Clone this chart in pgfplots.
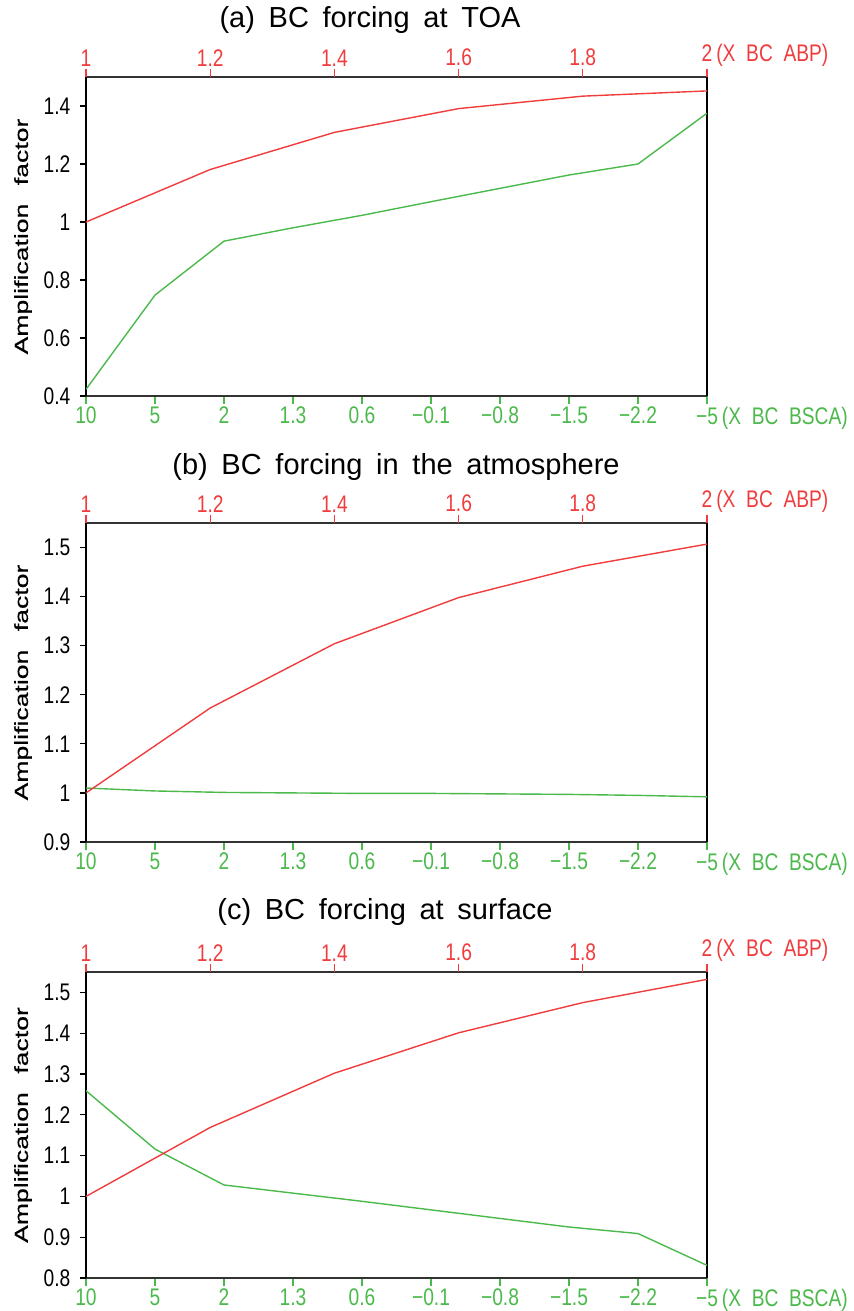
\documentclass[border=0pt]{standalone}
\usepackage{fontspec}
\setmainfont{Liberation Sans}
\newfontfamily\tickfont[FakeStretch=0.8, WordSpace=2]{Liberation Sans}
\newfontfamily\titlefont[WordSpace=1.7]{Liberation Sans}
\newfontfamily\labelfont[FakeStretch=1.4, WordSpace=2.5, FakeBold=0.5]{Liberation Sans}
\usepackage{pgfplots}
\pgfplotsset{compat=1.18}

\definecolor{abpred}{RGB}{240,60,60}
\definecolor{bscagreen}{RGB}{75,185,75}

\newcommand{\tickfs}{\tickfont\fontsize{12}{14}\selectfont}

\pgfplotsset{
  panel/.style={
    scale only axis, width=310.5pt, height=159.5pt,
    anchor=north west,
    tick align=outside,
    /pgf/number format/assume math mode=true,
  },
  bsca axis/.style={
    panel,
    xmin=0, xmax=9,
    xtick={0,1,2,3,4,5,6,7,8,9},
    xticklabels={10,5,2,1.3,0.6,−0.1,−0.8,−1.5,−2.2,−5\rlap{\hspace{2pt}(X BC BSCA)}},
    xtick pos=left, ytick pos=left,
    xticklabel style={text=bscagreen, font=\tickfs, inner sep=1pt},
    yticklabel style={font=\tickfs},
    xtick style={draw=bscagreen, line width=0.6pt, /pgfplots/major tick length=4pt},
    ytick style={draw=black, line width=0.6pt, /pgfplots/major tick length=3pt},
    separate axis lines,
    x axis line style={line width=1pt, draw=black!80},
    y axis line style={line width=0.6pt, draw=black},
    ylabel={Amplification factor},
    ylabel style={font=\labelfont\fontsize{9.5}{11}\selectfont,
      at={(axis description cs:-0.1014,0.5)}, anchor=center},
  },
  abp axis/.style={
    panel,
    xmin=1, xmax=2,
    xtick={1,1.2,1.4,1.6,1.8,2},
    xticklabels={1,1.2,1.4,1.6,1.8,2\rlap{\hspace{2pt}(X BC ABP)}},
    xtick pos=right, xticklabel pos=right,
    hide y axis,
    axis line style={draw=none},
    xticklabel style={text=abpred, font=\tickfs, inner sep=1pt},
    xtick style={draw=abpred, line width=0.6pt, /pgfplots/major tick length=4pt},
  },
}

\begin{document}
\begin{tikzpicture}
\useasboundingbox (0,0) rectangle (426.5pt,-655.5pt);

% (a) TOA
\node[font=\titlefont\fontsize{14.5}{17}\selectfont] at (185pt,-10pt) {(a) BC forcing at TOA};
\begin{axis}[bsca axis, at={(43pt,-38.5pt)},
  ymin=0.4, ymax=1.5, ytick={0.4,0.6,0.8,1,1.2,1.4}]
\addplot[bscagreen, line width=0.7pt] coordinates {
  (0,0.423) (1,0.748) (2,0.934) (3,0.980) (4,1.023)
  (5,1.070) (6,1.116) (7,1.162) (8,1.200) (9,1.375)};
\end{axis}
\begin{axis}[abp axis, at={(43pt,-38.5pt)}, ymin=0.4, ymax=1.5]
\addplot[abpred, line width=0.7pt] coordinates {
  (1,1.000) (1.2,1.181) (1.4,1.309) (1.6,1.391) (1.8,1.434) (2,1.452)};
\end{axis}

% (b) atmosphere
\node[font=\titlefont\fontsize{14.5}{17}\selectfont] at (198pt,-233.5pt) {(b) BC forcing in the atmosphere};
\begin{axis}[bsca axis, at={(43pt,-261.5pt)},
  ymin=0.9, ymax=1.55, ytick={0.9,1,1.1,1.2,1.3,1.4,1.5}]
\addplot[bscagreen, line width=0.7pt] coordinates {
  (0,1.010) (1,1.004) (2,1.001) (3,1.000) (4,0.999)
  (5,0.999) (6,0.998) (7,0.997) (8,0.995) (9,0.992)};
\end{axis}
\begin{axis}[abp axis, at={(43pt,-261.5pt)}, ymin=0.9, ymax=1.55]
\addplot[abpred, line width=0.7pt] coordinates {
  (1,1.000) (1.2,1.173) (1.4,1.304) (1.6,1.398) (1.8,1.462) (2,1.507)};
\end{axis}

% (c) surface
\node[font=\titlefont\fontsize{14.5}{17}\selectfont] at (192.5pt,-456pt) {(c) BC forcing at surface};
\begin{axis}[bsca axis, at={(43pt,-486pt)}, height=153pt,
  ymin=0.8, ymax=1.55, ytick={0.8,0.9,1,1.1,1.2,1.3,1.4,1.5}]
\addplot[bscagreen, line width=0.7pt] coordinates {
  (0,1.259) (1,1.116) (2,1.028) (3,1.008) (4,0.988)
  (5,0.967) (6,0.946) (7,0.925) (8,0.909) (9,0.831)};
\end{axis}
\begin{axis}[abp axis, at={(43pt,-486pt)}, height=153pt, ymin=0.8, ymax=1.55]
\addplot[abpred, line width=0.7pt] coordinates {
  (1,1.000) (1.2,1.169) (1.4,1.302) (1.6,1.401) (1.8,1.475) (2,1.532)};
\end{axis}
\end{tikzpicture}
\end{document}
